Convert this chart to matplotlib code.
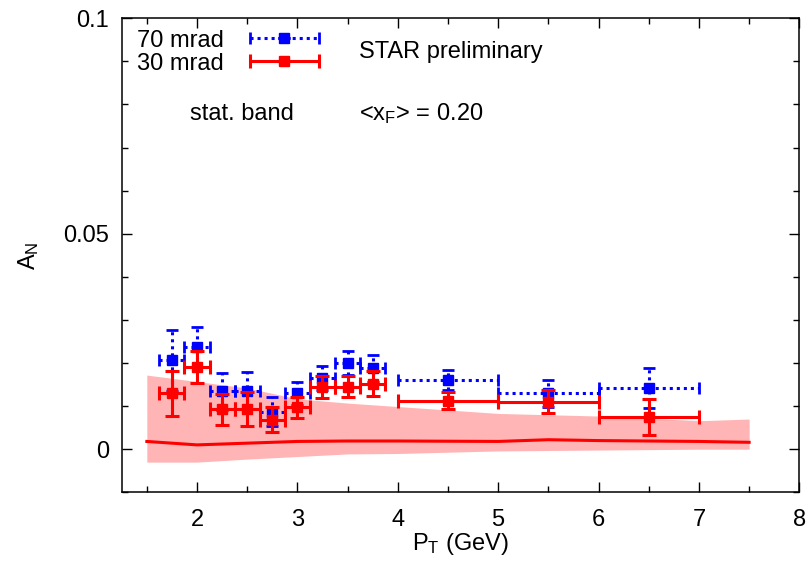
import numpy as np
import matplotlib
matplotlib.use('Agg')
import matplotlib.pyplot as plt
from matplotlib.legend_handler import HandlerErrorbar

plt.rcParams['font.family'] = ['Liberation Sans', 'DejaVu Sans']
plt.rcParams['mathtext.fontset'] = 'custom'
plt.rcParams['mathtext.rm'] = 'Liberation Sans'
plt.rcParams['mathtext.it'] = 'Liberation Sans:italic'
plt.rcParams['mathtext.default'] = 'regular'

# bin centres and half widths (GeV)
pt = [1.75, 2.0, 2.25, 2.5, 2.75, 3.0, 3.25, 3.5, 3.75, 4.5, 5.5, 6.5]
pt_err = [0.125] * 9 + [0.5] * 3

# 30 mrad
an_30 = [0.0130, 0.0190, 0.0093, 0.0093, 0.0068, 0.0097, 0.0145, 0.0145, 0.0152, 0.0113, 0.0110, 0.0074]
an_30_err = [0.0052, 0.0037, 0.0036, 0.0040, 0.0029, 0.0025, 0.0026, 0.0024, 0.0029, 0.0020, 0.0027, 0.0042]

# 70 mrad
an_70 = [0.0206, 0.0237, 0.0134, 0.0136, 0.0087, 0.0130, 0.0165, 0.0201, 0.0188, 0.0161, 0.0130, 0.0142]
an_70_err = [0.0071, 0.0047, 0.0042, 0.0042, 0.0034, 0.0027, 0.0027, 0.0028, 0.0031, 0.0023, 0.0031, 0.0046]

# stat. band
band_pt = [1.5, 2.0, 2.5, 3.0, 3.5, 4.0, 5.0, 5.5, 6.0, 7.0, 7.5]
band_hi = [0.0172, 0.0157, 0.0142, 0.0117, 0.0107, 0.0099, 0.0083, 0.0080, 0.0077, 0.0066, 0.0070]
band_lo = [-0.0030, -0.0030, -0.0023, -0.0017, -0.0011, -0.0010, -0.0004, -0.0003, -0.0002, 0.0000, 0.0000]
band_mid = [0.0018, 0.0010, 0.0014, 0.0018, 0.0019, 0.0019, 0.0018, 0.0022, 0.0020, 0.0018, 0.0016]

fs = 17
fig = plt.figure(figsize=(8.12, 5.68), dpi=100)
ax = fig.add_axes([0.1499, 0.1333, 0.8345, 0.8345])

ax.fill_between(band_pt, band_lo, band_hi, color='#ffb5b5', lw=0, zorder=1)
ax.plot(band_pt, band_mid, color='#ff0000', lw=2.2, zorder=2)

eb70 = ax.errorbar(pt, an_70, yerr=an_70_err, xerr=pt_err, fmt='s', color='#0000ff',
                   ms=7, elinewidth=2.2, capsize=4, capthick=2, zorder=3, label='70 mrad')
for l in eb70[2]:
    l.set_linestyle((0, (1, 1.3)))
eb30 = ax.errorbar(pt, an_30, yerr=an_30_err, xerr=pt_err, fmt='s', color='#ff0000',
                   ms=6.5, elinewidth=2.2, capsize=5, capthick=2.2, zorder=4, label='30 mrad')

ax.set_xlim(1.25, 8)
ax.set_ylim(-0.01, 0.1)
ax.set_xticks([2, 3, 4, 5, 6, 7, 8])
ax.set_xticks(np.arange(1.5, 8, 0.5), minor=True)
ax.set_yticks([0, 0.05, 0.1])
ax.set_yticklabels(['0', '0.05', '0.1'])
ax.set_yticks(np.arange(-0.01, 0.1, 0.01), minor=True)
ax.tick_params(which='both', direction='in', top=True, right=True, labelsize=fs, width=1)
ax.tick_params(which='major', length=7)
ax.tick_params(which='minor', length=4)
ax.tick_params(axis='x', pad=12)
ax.tick_params(axis='y', pad=9)
for s in ax.spines.values():
    s.set_linewidth(1.1)

ax.set_xlabel('$P_T$ (GeV)', fontsize=fs, labelpad=0)
ax.set_ylabel('$A_N$', fontsize=fs, labelpad=16)

ax.text(3.614, 0.0907, 'STAR preliminary', fontsize=fs, va='baseline')
ax.text(1.927, 0.0764, 'stat. band', fontsize=fs, va='baseline')
ax.text(3.614, 0.0764, '<$x_F$> = 0.20', fontsize=fs, va='baseline')

ax.legend(handles=[eb70, eb30], loc='upper left', bbox_to_anchor=(0.009, 0.996), frameon=False,
          fontsize=fs, markerfirst=False, handlelength=2.9, handletextpad=1.1,
          labelspacing=0.04, borderpad=0.2, borderaxespad=0.2,
          handler_map={type(eb30): HandlerErrorbar(xerr_size=1.45, yerr_size=0.0)})

fig.savefig('out.png', dpi=100)
